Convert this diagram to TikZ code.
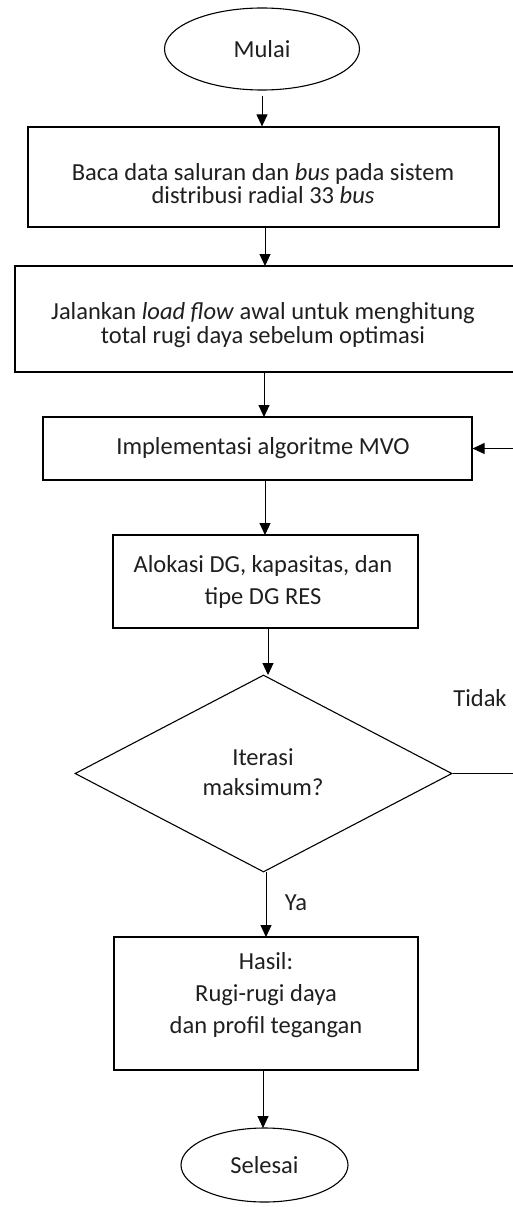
\documentclass[tikz,border=0pt]{standalone}
\usepackage{fontspec}
\setmainfont{Carlito}
\usetikzlibrary{shapes.geometric,arrows.meta,calc}
\tikzset{
  boxnode/.style={draw, line width=1.2pt, rectangle, inner sep=0pt},
  ovalnode/.style={draw, line width=1.1pt, ellipse, inner sep=0pt, font=\fontsize{24.5}{26}\selectfont},
  decnode/.style={draw, line width=1.1pt, diamond, inner sep=0pt},
  txt/.style={inner sep=0pt, align=center, text=black!88, font=\fontsize{24.5}{26}\selectfont},
  arr/.style={line width=1pt, -{Triangle[length=12pt,width=11pt]}},
  ln/.style={line width=1pt}
}
\begin{document}
\begin{tikzpicture}[x=1pt,y=-1pt]
\clip (0,0) rectangle (513,1207);
\fill[white] (0,0) rectangle (513,1207);
% shapes
\node[ovalnode, minimum width=195pt, minimum height=82pt, text=black!88] (mulai) at (262,49) {Mulai};
\node[boxnode, minimum width=471pt, minimum height=100pt] (b1) at (263.5,177) {};
\node[boxnode, minimum width=500pt, minimum height=106pt] (b2) at (265,319) {};
\node[boxnode, minimum width=429pt, minimum height=63pt] (b3) at (257.5,448.5) {};
\node[boxnode, minimum width=305pt, minimum height=93pt] (b4) at (265.5,581.5) {};
\node[decnode, minimum width=377pt, minimum height=197pt] (d) at (263.5,773.5) {};
\node[boxnode, minimum width=304pt, minimum height=133pt] (b5) at (266,1003.5) {};
\node[ovalnode, minimum width=167pt, minimum height=74pt, text=black!88] (sel) at (264.5,1165) {Selesai};
% texts
\node[txt, font=\fontsize{24.5}{23}\selectfont] (t1) at (263,184) {Baca data saluran dan \textit{bus} pada sistem\\distribusi radial 33 \textit{bus}};
\node[txt, font=\fontsize{24.5}{24}\selectfont] (t2) at (263,325) {Jalankan \textit{load flow} awal untuk menghitung\\total rugi daya sebelum optimasi};
\node[txt] (t3) at (263,448) {Implementasi algoritme MVO};
\node[txt, font=\fontsize{24.5}{32}\selectfont] (t4) at (263,582) {Alokasi DG, kapasitas, dan\\tipe DG RES};
\node[txt, font=\fontsize{24.5}{30}\selectfont] (t5) at (263,772) {Iterasi\\maksimum?};
\node[txt, font=\fontsize{24.5}{32}\selectfont] (t6) at (266,995) {Hasil:\\Rugi-rugi daya\\dan profil tegangan};
\node[txt] (tidak) at (480,698) {Tidak};
\node[txt] (ya) at (296,903) {Ya};
% connectors
\coordinate (fr1) at (530,773.5);
\coordinate (fr2) at (530,448.5);
\draw[arr] ([yshift=-5pt]mulai.south) -- (mulai.south |- b1.north);
\draw[arr] (265,227) -- (265,266);
\draw[arr] (264,372) -- (264,417);
\draw[arr] (265,480) -- (265,535);
\draw[arr] (268,628) -- (268,675);
\draw[arr] (266,872) -- (266,937);
\draw[arr] (263,1070) -- (263,1128);
\draw[ln] (d.east) -- (fr1) -- (fr2);
\draw[arr] (fr2) -- (b3.east);
\end{tikzpicture}
\end{document}
